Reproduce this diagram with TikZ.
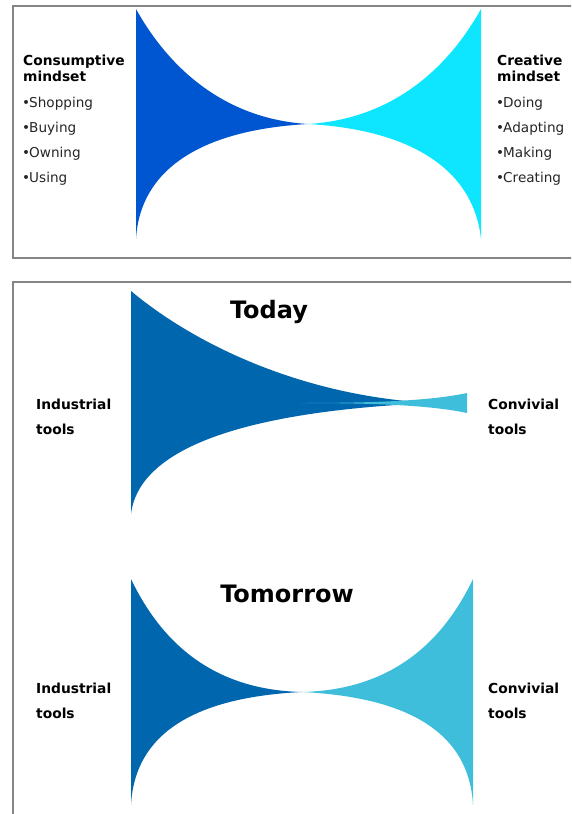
\documentclass[tikz,border=0pt]{standalone}
\usepackage{fontspec}
\setmainfont{DejaVu Sans}

\definecolor{consblue}{RGB}{0,86,208}
\definecolor{creacyan}{RGB}{14,230,255}
\definecolor{indblue}{RGB}{0,102,174}
\definecolor{convcyan}{RGB}{62,190,218}

\begin{document}
\begin{tikzpicture}[
  x=1pt, y=-1pt,
  panel/.style={draw=black!48, line width=1.7pt},
  head/.style={font=\fontsize{13.8}{16}\selectfont\bfseries, anchor=base west, inner sep=0pt},
  item/.style={font=\fontsize{13.6}{16}\selectfont, text=black!85, anchor=base west, inner sep=0pt},
  title/.style={font=\fontsize{24}{28}\selectfont\bfseries, anchor=base, inner sep=0pt},
]
\clip (0,0) rectangle (571,814);
\fill[white] (0,0) rectangle (571,814);

% ── panel 1: mindsets ──────────────────
\draw[panel] (13,6) rectangle (620,258);
\fill[consblue] (136,9) .. controls (170,70) and (226,119) .. (308,124)
  .. controls (200,130) and (140,170) .. (136,239) -- cycle;
\fill[creacyan] (481,9) .. controls (447,70) and (391,119) .. (308,124)
  .. controls (415,130) and (474,172) .. (481,239) -- cycle;

\node[head] (conshead) at (23,65) {Consumptive};
\node[head] (consmind) at (23,81) {mindset};
\foreach \w [count=\i] in {Shopping,Buying,Owning,Using}
  \node[item] (cons\i) at (22,82+25*\i) {•\kern-1pt\w};

\node[head] (creahead) at (497,65) {Creative};
\node[head] (creamind) at (497,81) {mindset};
\foreach \w [count=\i] in {Doing,Adapting,Making,Creating}
  \node[item] (crea\i) at (496,82+25*\i) {•\kern-1pt\w};

% ── panel 2: tools, today and tomorrow ────────────
\draw[panel] (13,282) rectangle (620,860);

% today: industrial tools dominate
\node[title] (today) at (269,318) {Today};
\fill[indblue] (131,291) .. controls (193,343) and (300,396) .. (432,403)
  .. controls (270,410) and (140,440) .. (131,514) -- cycle;
\fill[convcyan] (467,393) .. controls (430,401) and (370,403) .. (301,403)
  .. controls (370,403) and (430,405) .. (467,413) -- cycle;

\node[head] (indtoday) at (36,409) {Industrial};
\node[head] (indtools) at (36,434) {tools};
\node[head] (convtoday) at (488,409) {Convivial};
\node[head] (convtools) at (488,434) {tools};

% tomorrow: both kinds balanced
\node[title] (tomorrow) at (287,602) {Tomorrow};
\fill[indblue] (131,579) .. controls (165,650) and (220,690) .. (302,692)
  .. controls (200,697) and (135,730) .. (131,805) -- cycle;
\fill[convcyan] (473,579) .. controls (439,650) and (384,690) .. (302,692)
  .. controls (404,697) and (469,730) .. (473,805) -- cycle;

\node[head] (indtmr) at (36,693) {Industrial};
\node[head] (indtmrtools) at (36,718) {tools};
\node[head] (convtmr) at (488,693) {Convivial};
\node[head] (convtmrtools) at (488,718) {tools};

\end{tikzpicture}
\end{document}
